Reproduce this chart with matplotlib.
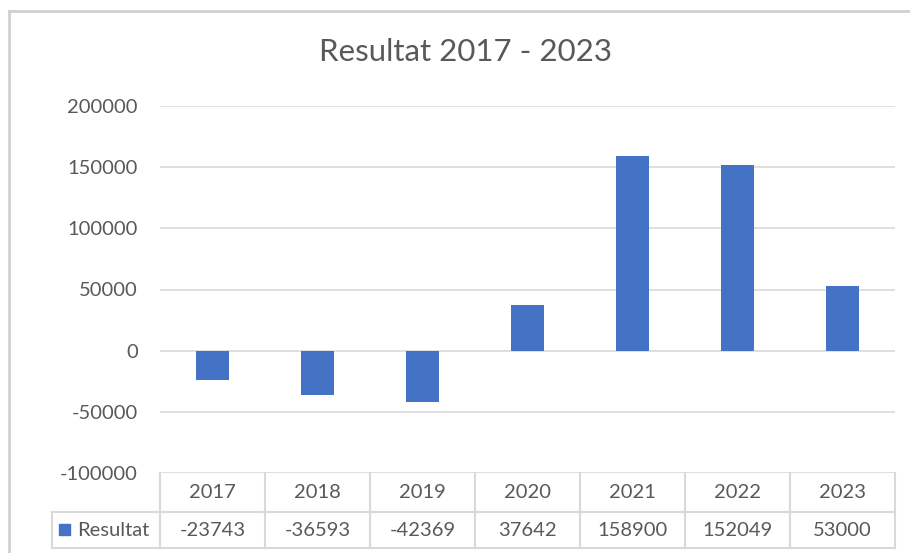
import matplotlib.pyplot as plt
import matplotlib.transforms as mtransforms
from matplotlib.lines import Line2D
from matplotlib.patches import Rectangle

# data
years = ['2017', '2018', '2019', '2020', '2021', '2022', '2023']
resultat = [-23743, -36593, -42369, 37642, 158900, 152049, 53000]
series_name = 'Resultat'
y_ticks = [-100000, -50000, 0, 50000, 100000, 150000, 200000]

bar_color = '#4472C4'
text_color = '#595959'
grid_color = '#d9d9d9'
plt.rcParams['font.family'] = ['Lato', 'DejaVu Sans']
fs = 14.5

W, H = 910, 553
fig = plt.figure(figsize=(W / 100, H / 100), dpi=100)

# plot area in pixels: x 160..895, y 106..473 (from top)
ax = fig.add_axes([160 / W, 1 - 473 / H, 735 / W, 367 / H])
x = list(range(len(years)))
ax.bar(x, resultat, width=0.32, color=bar_color, zorder=3)
ax.set_xlim(-0.5, len(years) - 0.5)
ax.set_ylim(y_ticks[0], y_ticks[-1])
ax.set_yticks(y_ticks)
ax.set_yticklabels([str(v) for v in y_ticks])
ax.set_xticks([])
ax.tick_params(axis='y', length=0, pad=16, labelsize=fs, labelcolor=text_color)
ax.grid(axis='y', color=grid_color, linewidth=1.2, zorder=0)
for s in ax.spines.values():
    s.set_visible(False)

fig.text(0.511, 1 - 52 / H, 'Resultat 2017 - 2023', ha='center', va='center',
         fontsize=22.5, color=text_color)

# data table under the plot
trans = mtransforms.blended_transform_factory(ax.transData, fig.transFigure)
y_top = 1 - 473 / H
y_mid = 1 - 512 / H
y_bot = 1 - 548 / H
lbl_left = 52 / W
lw = 1.5
for b in [i - 0.5 for i in range(len(years) + 1)]:
    fig.add_artist(Line2D([b, b], [y_bot, y_top], transform=trans, color=grid_color, lw=lw))
for yy in (y_mid, y_bot):
    fig.add_artist(Line2D([lbl_left, 895 / W], [yy, yy], transform=fig.transFigure,
                          color=grid_color, lw=lw))
fig.add_artist(Line2D([lbl_left, lbl_left], [y_bot, y_mid], transform=fig.transFigure,
                      color=grid_color, lw=lw))
for i, (yr, v) in enumerate(zip(years, resultat)):
    fig.text(i, (y_top + y_mid) / 2, yr, transform=trans, ha='center', va='center',
             fontsize=fs, color=text_color)
    fig.text(i, (y_mid + y_bot) / 2, str(v), transform=trans, ha='center', va='center',
             fontsize=fs, color=text_color)
fig.add_artist(Rectangle((59 / W, 1 - 535 / H), 11 / W, 11 / H, transform=fig.transFigure,
                         color=bar_color))
fig.text(77 / W, (y_mid + y_bot) / 2, series_name, ha='left', va='center',
         fontsize=fs, color=text_color)

# chart border as in the screenshot
fig.add_artist(Line2D([8.5 / W, 8.5 / W], [0, 1 - 11 / H], transform=fig.transFigure,
                      color='#d0d0d0', lw=2))
fig.add_artist(Line2D([8.5 / W, 1], [1 - 11 / H, 1 - 11 / H], transform=fig.transFigure,
                      color='#d0d0d0', lw=2))

fig.savefig('out.png', dpi=100)
